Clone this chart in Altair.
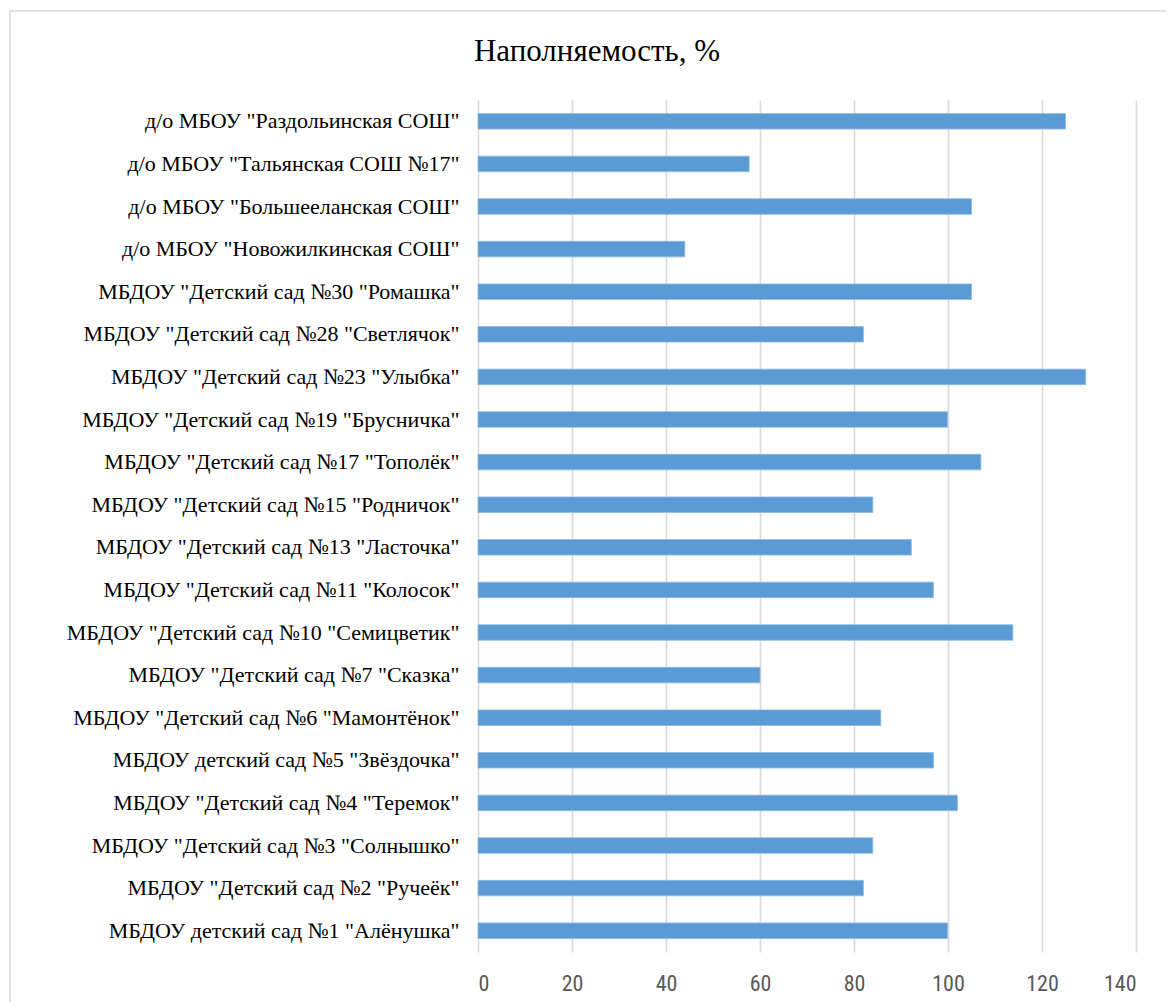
import altair as alt
import pandas as pd

categories = [
    'д/о МБОУ "Раздольинская СОШ"',
    'д/о МБОУ "Тальянская СОШ №17"',
    'д/о МБОУ "Большееланская СОШ"',
    'д/о МБОУ "Новожилкинская СОШ"',
    'МБДОУ "Детский сад №30 "Ромашка"',
    'МБДОУ "Детский сад №28 "Светлячок"',
    'МБДОУ "Детский сад №23 "Улыбка"',
    'МБДОУ "Детский сад №19 "Брусничка"',
    'МБДОУ "Детский сад №17 "Тополёк"',
    'МБДОУ "Детский сад №15 "Родничок"',
    'МБДОУ "Детский сад №13 "Ласточка"',
    'МБДОУ "Детский сад №11 "Колосок"',
    'МБДОУ "Детский сад №10 "Семицветик"',
    'МБДОУ "Детский сад №7 "Сказка"',
    'МБДОУ "Детский сад №6 "Мамонтёнок"',
    'МБДОУ детский сад №5 "Звёздочка"',
    'МБДОУ "Детский сад №4 "Теремок"',
    'МБДОУ "Детский сад №3 "Солнышко"',
    'МБДОУ "Детский сад №2 "Ручеёк"',
    'МБДОУ детский сад №1 "Алёнушка"',
]
values = [125, 57.7, 105, 44, 105, 82, 129.3, 99.9, 107, 84,
          92.2, 96.9, 113.8, 60, 85.7, 96.9, 102, 84, 82, 99.9]
x_ticks = [0, 20, 40, 60, 80, 100, 120, 140]
title_text = "Наполняемость, %"

df = pd.DataFrame({"name": categories, "value": values})

W, H = 658, 852
SERIF = "Liberation Serif"
SANS = "Liberation Sans Narrow, Roboto Condensed, Roboto, sans-serif"

bars = alt.Chart(df).mark_bar(
    color="#5b9bd5", stroke="#8dbbe6", strokeWidth=0.8
).encode(
    y=alt.Y(
        "name:N", sort=None,
        scale=alt.Scale(paddingInner=0.635, paddingOuter=0.3175),
        axis=alt.Axis(
            title=None, ticks=False, domain=False, grid=False,
            labelFont=SERIF, labelFontSize=22,
            labelColor="#000000", labelPadding=19, labelLimit=600,
        ),
    ),
    x=alt.X(
        "value:Q",
        scale=alt.Scale(domain=[0, 140], nice=False),
        axis=alt.Axis(
            title=None, values=x_ticks, ticks=False, domain=False,
            grid=True, gridColor="#d9d9d9", gridWidth=1.6,
            labelFont=SANS,
            labelFontSize=22, labelColor="#595959", labelPadding=21,
        ),
    ),
)

frame_df = pd.DataFrame({"k": [0]})
frame = alt.Chart(frame_df).mark_rect(
    fill=None, stroke="#d9d9d9", strokeWidth=1.5, clip=False
).encode(
    x=alt.value(-468), x2=alt.value(720),
    y=alt.value(-89), y2=alt.value(940),
)

chart = alt.layer(frame, bars).properties(
    width=W, height=H,
    autosize=alt.AutoSizeParams(type="none"),
    padding={"left": 470, "top": 92, "right": 30, "bottom": 50},
    title=alt.TitleParams(
        text=title_text, font=SERIF, fontSize=31,
        fontWeight="normal", color="#000000", anchor="middle",
        baseline="alphabetic", offset=-82, dx=-210,
    ),
).configure_view(stroke=None)

chart.save("out.html", embed_options={"renderer": "svg", "actions": False})
